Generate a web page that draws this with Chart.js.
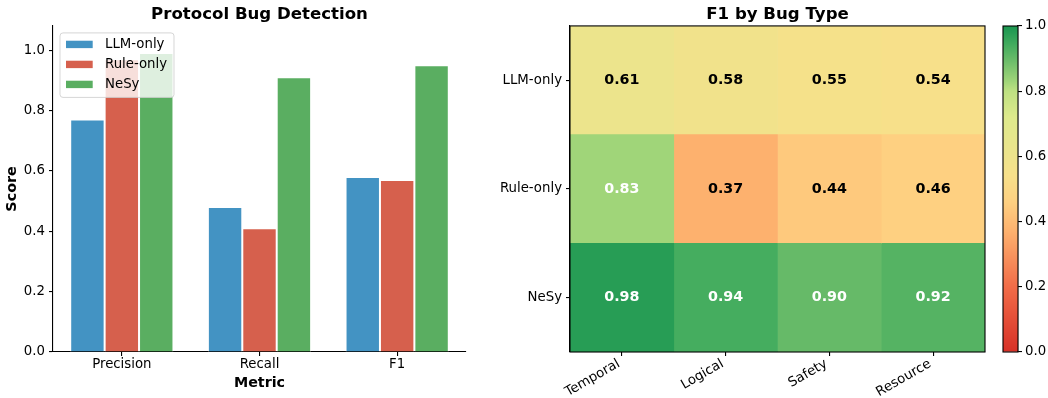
<!DOCTYPE html>
<html><head><meta charset="utf-8">
<script src="https://cdn.jsdelivr.net/npm/chart.js@4/dist/chart.umd.min.js"></script>
<style>
html,body{margin:0;padding:0;background:#fff;}
#wrap{position:relative;width:1048px;height:398px;overflow:hidden;background:#fff;}
canvas{position:absolute;top:0;}
</style></head><body>
<div id="wrap">
<canvas id="c1" width="480" height="398" style="left:0"></canvas>
<canvas id="c2" width="520" height="398" style="left:480px"></canvas>
<canvas id="c3" width="53" height="398" style="left:995px"></canvas>
</div>
<script>
// ---- data ----
const metrics = ['Precision', 'Recall', 'F1'];
const llmOnly = [0.77, 0.48, 0.58];
const ruleOnly = [0.97, 0.41, 0.57];
const nesy = [0.99, 0.91, 0.95];
const seriesNames = ['LLM-only', 'Rule-only', 'NeSy'];
const scoreTicks = [0.0, 0.2, 0.4, 0.6, 0.8, 1.0];

const methods = ['LLM-only', 'Rule-only', 'NeSy'];
const bugTypes = ['Temporal', 'Logical', 'Safety', 'Resource'];
const f1LLM = [0.61, 0.58, 0.55, 0.54];
const f1Rule = [0.83, 0.37, 0.44, 0.46];
const f1NeSy = [0.98, 0.94, 0.90, 0.92];
const colorbarTicks = [0.0, 0.2, 0.4, 0.6, 0.8, 1.0];

// ---- style ----
const FONT = "'DejaVu Sans', sans-serif";
Chart.defaults.font.family = FONT;
Chart.defaults.color = '#000';
Chart.defaults.animation = false;
const barColors = ['#4393c3', '#d6604d', '#5aae61'];
const CMAP = [
  [0.0, [215, 48, 39]], [0.2, [242, 108, 72]], [0.37, [253, 177, 110]],
  [0.46, [254, 208, 129]], [0.54, [247, 224, 138]], [0.61, [236, 228, 140]],
  [0.72, [222, 234, 140]], [0.8, [190, 225, 130]], [0.83, [160, 213, 121]],
  [0.9, [102, 186, 104]], [0.94, [69, 173, 95]], [0.98, [39, 157, 85]],
  [1.0, [28, 150, 80]]
];
function cmap(v) {
  v = Math.max(0, Math.min(1, v));
  for (let k = 1; k < CMAP.length; k++) {
    const [p1, c1] = CMAP[k - 1], [p2, c2] = CMAP[k];
    if (v <= p2) {
      const t = (v - p1) / (p2 - p1);
      const c = c1.map((a, i) => Math.round(a + (c2[i] - a) * t));
      return `rgb(${c[0]},${c[1]},${c[2]})`;
    }
  }
  const c = CMAP[CMAP.length - 1][1];
  return `rgb(${c[0]},${c[1]},${c[2]})`;
}

const framePlugin = {
  id: 'frame',
  afterDatasetsDraw(chart) {
    const a = chart.chartArea, ctx = chart.ctx;
    ctx.save();
    ctx.strokeStyle = '#000';
    ctx.lineWidth = 1.1;
    ctx.strokeRect(a.left, a.top, a.right - a.left, a.bottom - a.top);
    ctx.restore();
  }
};

const legendPlugin = {
  id: 'innerLegend',
  afterDraw(chart) {
    const ctx = chart.ctx, a = chart.chartArea;
    const x0 = a.left + 7, y0 = a.top + 7, w = 114, h = 64.5;
    ctx.save();
    ctx.beginPath();
    ctx.roundRect(x0, y0, w, h, 3);
    ctx.fillStyle = 'rgba(255,255,255,0.8)';
    ctx.fill();
    ctx.strokeStyle = 'rgba(204,204,204,0.8)';
    ctx.lineWidth = 1;
    ctx.stroke();
    ctx.font = `13.3px ${FONT}`;
    ctx.textBaseline = 'middle';
    chart.data.datasets.forEach((ds, i) => {
      const y = y0 + 11.5 + 20 * i;
      ctx.fillStyle = ds.backgroundColor;
      ctx.fillRect(x0 + 6, y - 3.7, 26.7, 7.4);
      ctx.fillStyle = '#000';
      ctx.fillText(ds.label, x0 + 45, y);
    });
    ctx.restore();
  }
};

// ---- left: grouped bar chart ----
new Chart(document.getElementById('c1'), {
  type: 'bar',
  data: {
    labels: metrics,
    datasets: [llmOnly, ruleOnly, nesy].map((d, i) => ({
      label: seriesNames[i], data: d, backgroundColor: barColors[i],
      borderColor: '#fff', borderWidth: 1
    }))
  },
  options: {
    responsive: false, animation: false,
    layout: { padding: { left: 0, right: 14, top: 0, bottom: 0 } },
    datasets: { bar: { categoryPercentage: 0.75, barPercentage: 1 } },
    plugins: {
      legend: { display: false }, tooltip: { enabled: false },
      title: { display: true, text: 'Protocol Bug Detection', fullSize: false,
        font: { size: 16.6, weight: 'bold' }, padding: { top: 5, bottom: 1 }, color: '#000' }
    },
    scales: {
      x: {
        grid: { display: true, drawOnChartArea: false, offset: false, color: '#000', tickLength: 4, lineWidth: 1.1 },
        border: { display: true, color: '#000', width: 1.1 },
        ticks: { font: { size: 13.3 }, padding: 1, color: '#000' },
        title: { display: true, text: 'Metric', font: { size: 14.3, weight: 'bold' }, padding: { top: 0, bottom: 6 }, color: '#000' },
        afterFit: s => { s.height = 46; }
      },
      y: {
        min: 0, max: 1.08,
        afterBuildTicks: s => { s.ticks = scoreTicks.map(v => ({ value: v })); },
        ticks: { callback: v => Number(v).toFixed(1), font: { size: 13.3 }, padding: 4, color: '#000' },
        grid: { display: true, drawOnChartArea: false, color: '#000', tickLength: 4, lineWidth: 1.1 },
        border: { display: true, color: '#000', width: 1.1 },
        title: { display: true, text: 'Score', font: { size: 14.3, weight: 'bold' }, padding: { top: 4, bottom: 0 }, color: '#000' },
        afterFit: s => { s.width = 53; }
      }
    }
  },
  plugins: [legendPlugin]
});

// ---- right: heatmap ----
const heat = [f1LLM, f1Rule, f1NeSy];
const cellTextPlugin = {
  id: 'cellText',
  afterDatasetsDraw(chart) {
    const ctx = chart.ctx;
    ctx.save();
    ctx.font = `bold 14.3px ${FONT}`;
    ctx.textAlign = 'center';
    ctx.textBaseline = 'middle';
    chart.data.datasets.forEach((ds, j) => {
      const meta = chart.getDatasetMeta(j);
      meta.data.forEach((el, i) => {
        const v = heat[i][j];
        ctx.fillStyle = v > 0.7 ? '#fff' : '#000';
        ctx.fillText(v.toFixed(2), (el.x + el.base) / 2, el.y);
      });
    });
    ctx.restore();
  }
};

new Chart(document.getElementById('c2'), {
  type: 'bar',
  data: {
    labels: methods,
    datasets: bugTypes.map((bt, j) => ({
      label: bt,
      data: methods.map(() => [j, j + 1]),
      backgroundColor: heat.map(row => cmap(row[j])),
      grouped: false, barPercentage: 1, categoryPercentage: 1, borderWidth: 0
    }))
  },
  options: {
    indexAxis: 'y', responsive: false, animation: false,
    layout: { padding: { left: 0, right: 15, top: 0, bottom: 0 } },
    plugins: {
      legend: { display: false }, tooltip: { enabled: false },
      title: { display: true, text: 'F1 by Bug Type', fullSize: false,
        font: { size: 16.6, weight: 'bold' }, padding: { top: 5, bottom: 1 }, color: '#000' }
    },
    scales: {
      x: {
        type: 'linear', min: 0, max: 4,
        afterBuildTicks: s => { s.ticks = bugTypes.map((b, j) => ({ value: j + 0.5 })); },
        ticks: { callback: v => bugTypes[Math.floor(v)], minRotation: 30, maxRotation: 30,
          font: { size: 13.3 }, padding: 0, labelOffset: -3, color: '#000', autoSkip: false },
        grid: { display: true, drawOnChartArea: false, color: '#000', tickLength: 4, lineWidth: 1.1 },
        border: { display: true, color: '#000', width: 1.1 },
        afterFit: s => { s.height = 46; }
      },
      y: {
        type: 'category',
        grid: { display: true, drawOnChartArea: false, offset: false, color: '#000', tickLength: 4, lineWidth: 1.1 },
        border: { display: true, color: '#000', width: 1.1 },
        ticks: { font: { size: 13.3 }, padding: 4, color: '#000' },
        afterFit: s => { s.width = 90; }
      }
    }
  },
  plugins: [cellTextPlugin, framePlugin]
});

// ---- colorbar ----
new Chart(document.getElementById('c3'), {
  type: 'bar',
  data: {
    labels: [''],
    datasets: [{
      data: [[0, 1]],
      backgroundColor: (ctx) => {
        const ch = ctx.chart, a = ch.chartArea;
        if (!a) return '#fff';
        const g = ch.ctx.createLinearGradient(0, a.bottom, 0, a.top);
        CMAP.forEach(([p]) => g.addColorStop(p, cmap(p)));
        return g;
      },
      barPercentage: 1, categoryPercentage: 1, borderWidth: 0
    }]
  },
  options: {
    responsive: false, animation: false,
    layout: { padding: { left: 8, right: 0, top: 26, bottom: 46 } },
    plugins: { legend: { display: false }, tooltip: { enabled: false } },
    scales: {
      x: { display: false },
      y: {
        position: 'right', min: 0, max: 1,
        afterBuildTicks: s => { s.ticks = colorbarTicks.map(v => ({ value: v })); },
        ticks: { callback: v => Number(v).toFixed(1), font: { size: 13.3 }, padding: 3, color: '#000' },
        grid: { display: true, drawOnChartArea: false, color: '#000', tickLength: 4, lineWidth: 1.1 },
        border: { display: true, color: '#000', width: 1.1 },
        afterFit: s => { s.width = 30; }
      }
    }
  },
  plugins: [framePlugin]
});
</script>
</body></html>
